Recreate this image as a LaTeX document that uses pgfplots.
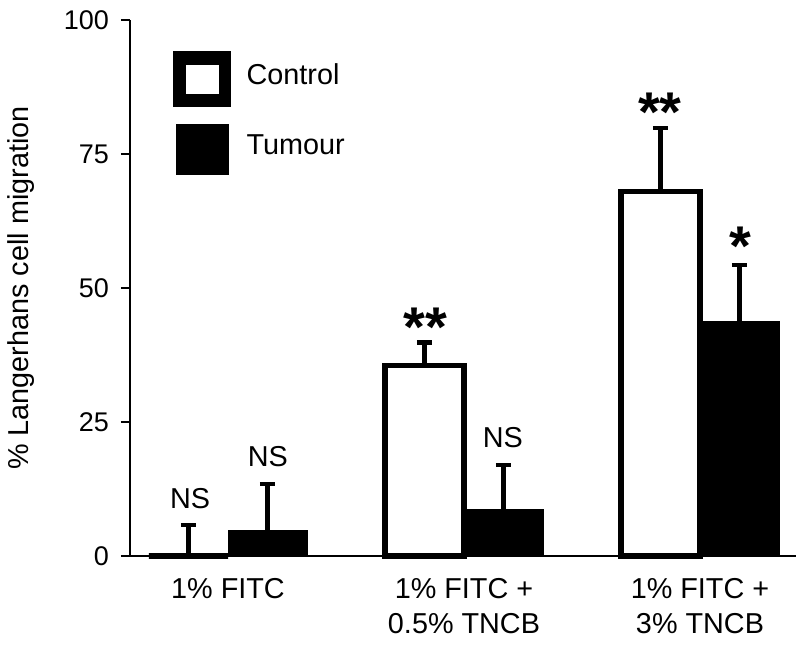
\documentclass[border=0pt]{standalone}
\usepackage{fontspec}
\setmainfont{Liberation Sans}
\usepackage{pgfplots}
\pgfplotsset{compat=1.18}
\begin{document}
\begin{tikzpicture}
\useasboundingbox (-65pt,-45pt) rectangle (333pt,278pt);
\begin{axis}[
  scale only axis, width=333pt, height=268pt,
  xmin=-0.4153, xmax=2.4068, ymin=0, ymax=100,
  axis lines=left, axis line style={-, line width=1.2pt},
  ytick={0,25,50,75,100}, tick align=outside, major tick length=4.5pt,
  y tick style={line width=1.2pt, black},
  xtick={0,1,2},
  xticklabels={{1\% FITC},{1\% FITC +\\0.5\% TNCB},{1\% FITC +\\3\% TNCB}},
  x tick style={draw=none},
  xticklabel style={align=center, font=\fontsize{14.4}{17.5}\selectfont, yshift=-3pt},
  yticklabel style={font=\fontsize{13.5}{15}\selectfont, xshift=-2.5pt},
  /pgf/number format/assume math mode=true,
  ylabel={\% Langerhans cell migration},
  ylabel style={font=\fontsize{14.4}{17}\selectfont, at={(axis description cs:-0.163,0.5)}, anchor=center},
  ybar=0pt, bar width=0.335,
  legend style={draw=none, fill=none, at={(axis description cs:0.0646,0.942)}, anchor=north west,
    inner sep=0pt, row sep=8.75pt, column sep=8pt, font=\fontsize{14.4}{17}\selectfont, nodes={inner sep=0pt}},
  legend cell align=left,
  clip=false,
]
\addplot[fill=white, draw=black, line width=2.6pt, bar shift=-0.1675,
  legend image code/.code={\path (0pt,-14.3pt) rectangle (26pt,10.7pt);
    \draw[line width=5pt, fill=white] (2.25pt,-11.55pt) rectangle (23.75pt,7.95pt);},
  error bars/.cd, y dir=plus, y explicit,
  error bar style={line width=2.2pt, black},
  error mark options={rotate=90, line width=2.2pt, mark size=3.8pt, black}]
  coordinates {(0,0) +- (0,5.8) (1,35.5) +- (0,4.3) (2,68) +- (0,11.9)};
\addlegendentry{Control}
\addplot[fill=black, draw=black, line width=0.4pt, bar shift=0.1675,
  legend image code/.code={\path (0pt,-14.3pt) rectangle (26pt,10.7pt);
    \fill[black] (0.25pt,-14.3pt) rectangle (25.75pt,10.7pt);},
  error bars/.cd, y dir=plus, y explicit,
  error bar style={line width=2.2pt, black},
  error mark options={rotate=90, line width=2.2pt, mark size=3.8pt, black}]
  coordinates {(0,4.8) +- (0,8.6) (1,8.7) +- (0,8.3) (2,43.8) +- (0,10.5)};
\addlegendentry{Tumour}
\node[font=\fontsize{14.4}{17}\selectfont] at (axis cs:-0.161,10.8) {NS};
\node[font=\fontsize{14.4}{17}\selectfont] at (axis cs:0.169,18.5) {NS};
\node[font=\fontsize{14.4}{17}\selectfont] at (axis cs:1.165,22.0) {NS};
\node[font=\fontsize{28}{28}\selectfont\bfseries, yshift=-4.5pt] at (axis cs:0.835,44.4) {**};
\node[font=\fontsize{28}{28}\selectfont\bfseries, yshift=-4.5pt] at (axis cs:1.83,84.5) {**};
\node[font=\fontsize{28}{28}\selectfont\bfseries, yshift=-4.5pt] at (axis cs:2.17,59.5) {*};
\end{axis}
\end{tikzpicture}
\end{document}
